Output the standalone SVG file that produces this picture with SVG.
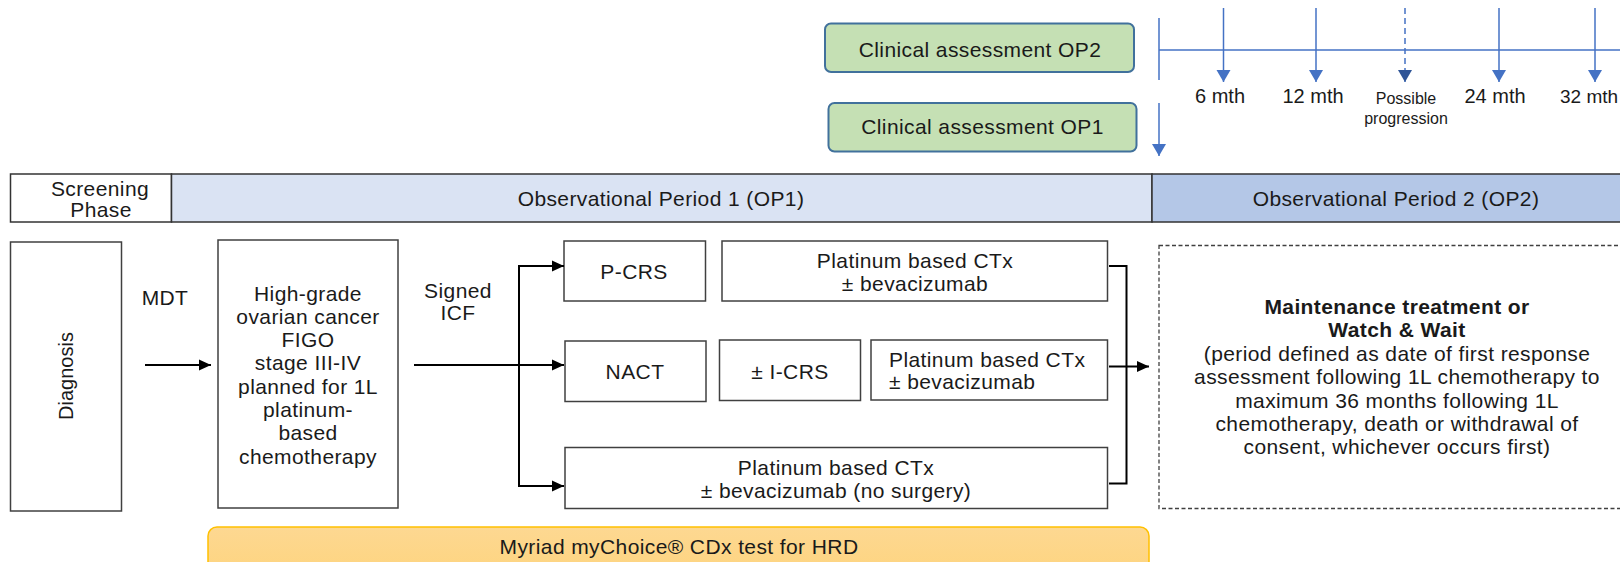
<svg xmlns="http://www.w3.org/2000/svg" width="1620" height="562" viewBox="0 0 1620 562">
<style>
.t{font-family:"Liberation Sans",Arial,sans-serif;font-size:21px;letter-spacing:0.4px;fill:#1a1a1a;text-anchor:middle}
.b{font-weight:bold}
.m{font-family:"Liberation Sans",Arial,sans-serif;font-size:20px;fill:#1a1a1a;text-anchor:middle}
.s{font-family:"Liberation Sans",Arial,sans-serif;font-size:16px;fill:#1a1a1a;text-anchor:middle}
.box{fill:#fff;stroke:#404040;stroke-width:1.5}
.green{fill:#c5e0b4;stroke:#41719c;stroke-width:2}
.blk{stroke:#000;stroke-width:2;fill:none}
.blu{stroke:#4472c4;stroke-width:1.5;fill:none}
</style>
<defs>
<marker id="ah" markerUnits="userSpaceOnUse" markerWidth="13" markerHeight="13" refX="12" refY="6.5" orient="auto">
<path d="M0,1 L12,6.5 L0,12 z" fill="#000"/>
</marker>
<marker id="bh" markerUnits="userSpaceOnUse" markerWidth="14" markerHeight="16" refX="12" refY="8" orient="auto">
<path d="M0,1 L12,8 L0,15 z" fill="#4472c4"/>
</marker>
<marker id="bhd" markerUnits="userSpaceOnUse" markerWidth="14" markerHeight="16" refX="12" refY="8" orient="auto">
<path d="M0,1 L12,8 L0,15 z" fill="#2f5597"/>
</marker>
<linearGradient id="og" x1="0" y1="0" x2="0" y2="1">
<stop offset="0" stop-color="#fdd892"/>
<stop offset="1" stop-color="#fed47e"/>
</linearGradient>
</defs>

<g id="clin-op2">
<rect class="green" x="825" y="23.5" width="309" height="48.5" rx="6"/>
<text class="t" x="980" y="57">Clinical assessment OP2</text>
</g>
<g id="clin-op1">
<rect class="green" x="828.5" y="103" width="308" height="48.5" rx="6"/>
<text class="t" x="982.5" y="134">Clinical assessment OP1</text>
</g>

<g id="timeline-labels">
<text class="m" x="1220" y="103">6 mth</text>
<text class="m" x="1313" y="103">12 mth</text>
<text class="s" x="1406" y="104">Possible</text>
<text class="s" x="1406" y="124">progression</text>
<text class="m" x="1495" y="103">24 mth</text>
<text class="m" x="1560" y="103" style="text-anchor:start;font-size:19px">32 mth</text>
</g>

<g id="header">
<rect x="10.5" y="174" width="161" height="48" fill="#fff" stroke="#333" stroke-width="1.5"/>
<rect x="171.5" y="174" width="980.5" height="48" fill="#dae3f3" stroke="#333" stroke-width="1.5"/>
<rect x="1152" y="174" width="470" height="48" fill="#b4c7e7" stroke="#333" stroke-width="1.5"/>
<text class="t" x="100" y="196">Screening</text>
<text class="t" x="101" y="217">Phase</text>
<text class="t" x="661" y="206">Observational Period 1 (OP1)</text>
<text class="t" x="1396" y="206">Observational Period 2 (OP2)</text>
</g>

<g id="diagnosis">
<rect class="box" x="10.5" y="242" width="111" height="269"/>
<text class="m" transform="translate(73,376) rotate(-90)">Diagnosis</text>
</g>
<g id="mdt-label"><text class="t" x="165" y="305">MDT</text></g>

<g id="population">
<rect class="box" x="218" y="240" width="180" height="268"/>
<text class="t" x="308" y="301">High-grade</text>
<text class="t" x="308" y="324">ovarian cancer</text>
<text class="t" x="308" y="347">FIGO</text>
<text class="t" x="308" y="370">stage III-IV</text>
<text class="t" x="308" y="394">planned for 1L</text>
<text class="t" x="308" y="417">platinum-</text>
<text class="t" x="308" y="440">based</text>
<text class="t" x="308" y="464">chemotherapy</text>
</g>
<g id="icf-label">
<text class="t" x="458" y="298">Signed</text>
<text class="t" x="458" y="320">ICF</text>
</g>

<g id="pcrs">
<rect class="box" x="564" y="241" width="141.5" height="60"/>
<text class="t" x="634" y="279">P-CRS</text>
</g>
<g id="ctx1">
<rect class="box" x="722" y="241" width="385.5" height="60"/>
<text class="t" x="915" y="268">Platinum based CTx</text>
<text class="t" x="915" y="291">± bevacizumab</text>
</g>
<g id="nact">
<rect class="box" x="565" y="341" width="141" height="60.5"/>
<text class="t" x="635" y="379">NACT</text>
</g>
<g id="icrs">
<rect class="box" x="719.5" y="340" width="141" height="60.5"/>
<text class="t" x="790" y="379">± I-CRS</text>
</g>
<g id="ctx2">
<rect class="box" x="871" y="340" width="236.5" height="60"/>
<text class="t" x="889" y="366.5" style="text-anchor:start">Platinum based CTx</text>
<text class="t" x="889" y="389" style="text-anchor:start">± bevacizumab</text>
</g>
<g id="ctx3">
<rect class="box" x="565" y="447.5" width="542.5" height="61"/>
<text class="t" x="836" y="475">Platinum based CTx</text>
<text class="t" x="836" y="497.5">± bevacizumab (no surgery)</text>
</g>

<g id="maintenance">
<rect x="1159" y="245.5" width="470" height="263" fill="#fff" stroke="#404040" stroke-width="1.3" stroke-dasharray="4,2.5"/>
<text class="t b" x="1397" y="314">Maintenance treatment or</text>
<text class="t b" x="1397" y="337">Watch &amp; Wait</text>
<text class="t" x="1397" y="361">(period defined as date of first response</text>
<text class="t" x="1397" y="384">assessment following 1L chemotherapy to</text>
<text class="t" x="1397" y="407.5">maximum 36 months following 1L</text>
<text class="t" x="1397" y="431">chemotherapy, death or withdrawal of</text>
<text class="t" x="1397" y="454">consent, whichever occurs first)</text>
</g>

<g id="myriad">
<rect x="208" y="527" width="941" height="50" rx="9" fill="url(#og)" stroke="#ffc000" stroke-width="1.5"/>
<text class="t" x="679" y="554">Myriad myChoice® CDx test for HRD</text>
</g>

<g id="connectors">
<line class="blk" x1="145" y1="365" x2="211" y2="365" marker-end="url(#ah)"/>
<line class="blk" x1="414" y1="365" x2="564" y2="365" marker-end="url(#ah)"/>
<line class="blk" x1="519" y1="266" x2="519" y2="486"/>
<line class="blk" x1="518" y1="266" x2="564" y2="266" marker-end="url(#ah)"/>
<line class="blk" x1="518" y1="486" x2="564" y2="486" marker-end="url(#ah)"/>
<path class="blk" d="M1109,266 H1126.5 V483.5 H1109"/>
<line class="blk" x1="1109" y1="366.5" x2="1149" y2="366.5" marker-end="url(#ah)"/>
<line class="blu" x1="1159" y1="18" x2="1159" y2="80"/>
<line class="blu" x1="1159" y1="50" x2="1620" y2="50"/>
<line class="blu" x1="1223.5" y1="8" x2="1223.5" y2="82" marker-end="url(#bh)"/>
<line class="blu" x1="1316" y1="8" x2="1316" y2="82" marker-end="url(#bh)"/>
<line class="blu" x1="1405" y1="8" x2="1405" y2="82" stroke="#2f5597" stroke-dasharray="6,4" marker-end="url(#bhd)"/>
<line class="blu" x1="1499" y1="8" x2="1499" y2="82" marker-end="url(#bh)"/>
<line class="blu" x1="1595" y1="8" x2="1595" y2="82" marker-end="url(#bh)"/>
<line class="blu" x1="1159" y1="103" x2="1159" y2="156" marker-end="url(#bh)"/>
</g>
</svg>
